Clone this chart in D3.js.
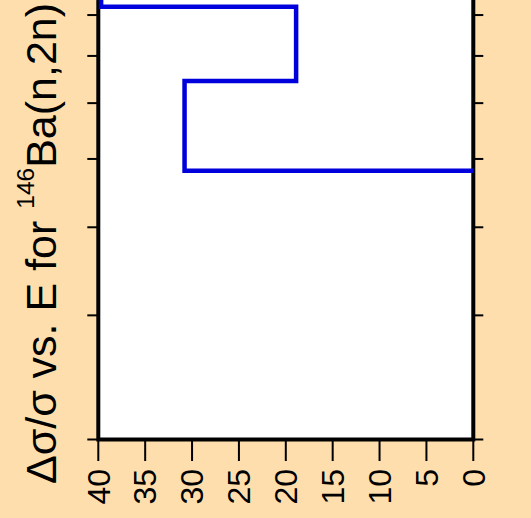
<!DOCTYPE html>
<html>
<head>
<meta charset="utf-8">
<script src="https://cdn.jsdelivr.net/npm/d3@7"></script>
<style>
  html, body { margin: 0; padding: 0; background: #FFDEAD; }
  svg { display: block; }
  text { font-family: "Liberation Sans", Arial, Helvetica, sans-serif; }
</style>
</head>
<body>
<svg id="chart" width="531" height="518"></svg>
<script>
// Data: relative uncertainty (%) per energy group (MeV), log energy axis
const energyEdges = [2, 4.81, 6.45, 8.22, 20];
const relUncertainty = [0, 30.8, 18.9, 39.7];
const xTickValues = [40, 35, 30, 25, 20, 15, 10, 5, 0];
const yTickValues = [2, 3, 4, 5, 6, 7, 8, 9, 10, 20];
const titleMain = "Δσ/σ vs. E for ";
const titleSup = "146";
const titleEnd = "Ba(n,2n)";

(function () {
const svg = d3.select("#chart");
const W = 531, H = 518;
svg.append("rect").attr("width", W).attr("height", H).attr("fill", "#FFDEAD");

const pLeft = 98.3, pRight = 473.3, pBottom = 439.5;
const x = d3.scaleLinear().domain([40, 0]).range([pLeft, pRight]);
const y = d3.scaleLog().domain([2, 20]).range([pBottom, pBottom - 705]);

const pTop = y(20);
// plot area
svg.append("rect")
  .attr("x", pLeft).attr("y", pTop)
  .attr("width", pRight - pLeft).attr("height", pBottom - pTop)
  .attr("fill", "#ffffff");

// frame
svg.append("path")
  .attr("d", `M${pLeft},${pTop}V${pBottom}H${pRight}V${pTop}`)
  .attr("fill", "none").attr("stroke", "#000").attr("stroke-width", 4);

// y ticks left and right
svg.append("g").selectAll("line").data(yTickValues).join("line")
  .attr("x1", pLeft - 11).attr("x2", pLeft)
  .attr("y1", d => y(d)).attr("y2", d => y(d))
  .attr("stroke", "#000").attr("stroke-width", 2);
svg.append("g").selectAll("line").data(yTickValues).join("line")
  .attr("x1", pRight).attr("x2", pRight + 10)
  .attr("y1", d => y(d)).attr("y2", d => y(d))
  .attr("stroke", "#000").attr("stroke-width", 2);

// x ticks
svg.append("g").selectAll("line").data(xTickValues).join("line")
  .attr("x1", d => x(d)).attr("x2", d => x(d))
  .attr("y1", pBottom).attr("y2", pBottom + 21.5)
  .attr("stroke", "#000").attr("stroke-width", 2);

svg.append("g").selectAll("text").data(xTickValues).join("text")
  .attr("transform", d => `translate(${x(d)},469) rotate(-90)`)
  .attr("text-anchor", "end")
  .attr("dy", "0.35em")
  .attr("font-size", 32)
  .attr("fill", "#000")
  .text(d => d);

// step line
const pts = [];
pts.push([relUncertainty[0], energyEdges[1]]);
for (let i = 1; i < relUncertainty.length; i++) {
  pts.push([relUncertainty[i], energyEdges[i]]);
  pts.push([relUncertainty[i], energyEdges[i + 1]]);
}
svg.append("path")
  .datum(pts)
  .attr("d", d3.line().x(d => x(d[0])).y(d => y(d[1])))
  .attr("fill", "none")
  .attr("stroke", "#0000dc")
  .attr("stroke-width", 4.5)
  .attr("stroke-linejoin", "miter")
  .attr("stroke-linecap", "butt");

// title
const t = svg.append("text")
  .attr("transform", "translate(56,243.5) rotate(-90)")
  .attr("text-anchor", "middle")
  .attr("font-size", 43)
  .attr("fill", "#000");
t.append("tspan").text(titleMain);
t.append("tspan").attr("font-size", 24.5).attr("dy", -22.5).text(titleSup);
t.append("tspan").attr("dy", 22.5).text(titleEnd);
})();
</script>
</body>
</html>
